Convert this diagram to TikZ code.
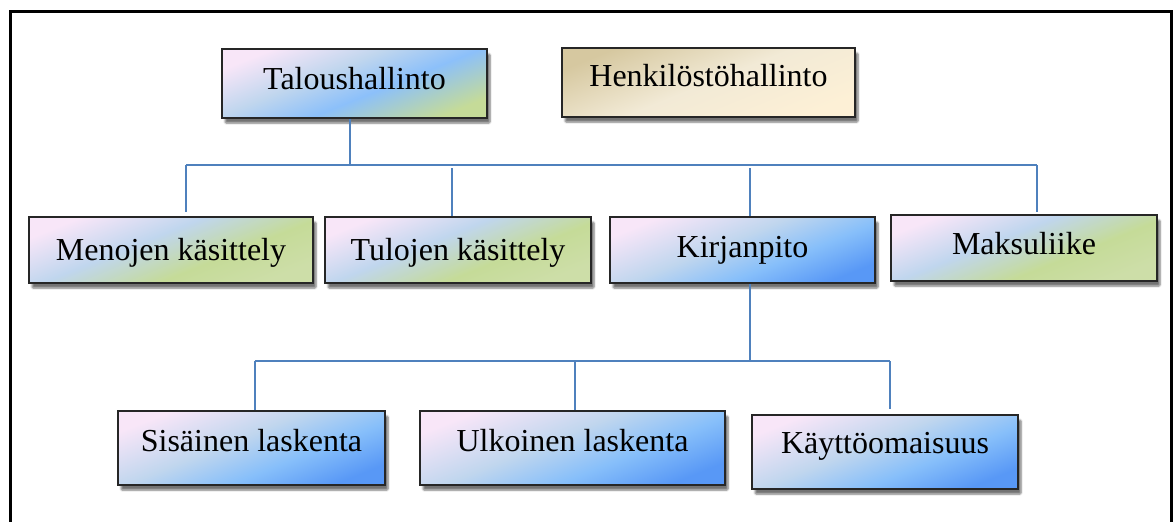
\documentclass[tikz,border=0pt]{standalone}
\usepackage{fontspec}
\setmainfont{Liberation Serif}
\usetikzlibrary{shadows.blur}

% gradient stops
\definecolor{pinkw}{RGB}{248,230,248}
\definecolor{greyblue}{RGB}{192,214,238}
\definecolor{skyblue}{RGB}{135,191,250}
\definecolor{deepblue}{RGB}{88,152,246}
\definecolor{midblue}{RGB}{140,192,250}
\definecolor{leaf}{RGB}{197,219,152}
\definecolor{leafl}{RGB}{205,222,168}
\definecolor{tandark}{RGB}{214,200,160}
\definecolor{tanmid}{RGB}{242,234,214}
\definecolor{tanlight}{RGB}{253,240,214}
\definecolor{linkblue}{RGB}{79,129,189}

\pgfdeclarehorizontalshading{blueshade}{100bp}{%
  color(0bp)=(pinkw); color(25bp)=(pinkw); color(45bp)=(greyblue);
  color(60bp)=(skyblue); color(75bp)=(deepblue); color(100bp)=(deepblue)}
\pgfdeclarehorizontalshading{topshade}{100bp}{%
  color(0bp)=(pinkw); color(25bp)=(pinkw); color(42bp)=(greyblue);
  color(56bp)=(midblue); color(75bp)=(leaf); color(100bp)=(leaf)}
\pgfdeclarehorizontalshading{greenshade}{100bp}{%
  color(0bp)=(pinkw); color(25bp)=(pinkw); color(43bp)=(greyblue);
  color(60bp)=(leaf); color(75bp)=(leafl); color(100bp)=(leafl)}
\pgfdeclarehorizontalshading{tanshade}{100bp}{%
  color(0bp)=(tandark); color(25bp)=(tandark); color(50bp)=(tanmid);
  color(75bp)=(tanlight); color(100bp)=(tanlight)}

\tikzset{
  orgbox/.style={draw=black!85, line width=1.6pt, rectangle, inner sep=0pt,
    shading=#1, shading angle=-68,
    font=\fontsize{32}{38}\selectfont, text depth=0pt,
    blur shadow={shadow xshift=3pt, shadow yshift=-5pt, shadow blur steps=6,
      shadow opacity=55, shadow blur extra rounding=1pt}},
  conn/.style={draw=linkblue, line width=2.8pt},
}

\begin{document}
\begin{tikzpicture}[x=1pt, y=-1pt]
\useasboundingbox (0,0) rectangle (1176,522);

% outer frame (open at the bottom edge of the page)
\draw[line width=3.5pt, black] (10.5,540) -- (10.5,11.5) -- (1171.5,11.5) -- (1171.5,540);

% top level
\node[orgbox=topshade, minimum width=265pt, minimum height=69pt, text height=11pt]
  (tal) at (354.5,83.5) {Taloushallinto};
\node[orgbox=tanshade, minimum width=293pt, minimum height=69pt, text height=8pt]
  (henk) at (708.5,82.5) {Henkilöstöhallinto};

% second level
\node[orgbox=greenshade, minimum width=284pt, minimum height=66pt, text height=20pt]
  (men) at (171,250) {Menojen käsittely};
\node[orgbox=greenshade, minimum width=266pt, minimum height=66pt, text height=20pt]
  (tul) at (458,250) {Tulojen käsittely};
\node[orgbox=blueshade, minimum width=265pt, minimum height=66pt, text height=14pt]
  (kir) at (742.5,250) {Kirjanpito};
\node[orgbox=greenshade, minimum width=266pt, minimum height=66pt, text height=12pt]
  (mak) at (1024,248) {Maksuliike};

% third level
\node[orgbox=blueshade, minimum width=267pt, minimum height=74pt, text height=6pt]
  (sis) at (251.5,448) {Sisäinen laskenta};
\node[orgbox=blueshade, minimum width=305pt, minimum height=74pt, text height=6pt]
  (ulk) at (572.5,448) {Ulkoinen laskenta};
\node[orgbox=blueshade, minimum width=266pt, minimum height=74pt, text height=2pt]
  (kay) at (885,452) {Käyttöomaisuus};

% branch points
\coordinate (t0) at (350,165);
\coordinate (t1) at (186,165);
\coordinate (t2) at (452,168);
\coordinate (t3) at (750,168);
\coordinate (t4) at (1037,165);
\coordinate (k0) at (750,361);
\coordinate (k1) at (255,361);
\coordinate (k2) at (575,361);
\coordinate (k3) at (890,361);

% connectors from Taloushallinto
\draw[conn] (tal.south -| t0) -- (t0);
\draw[conn] (t1) -- (t4);
\draw[conn, shorten >=4pt] (t1) -- (t1 |- men.north);
\draw[conn] (t2) -- (t2 |- tul.north);
\draw[conn] (t3) -- (t3 |- kir.north);
\draw[conn, shorten >=2pt] (t4) -- (t4 |- mak.north);

% connectors from Kirjanpito
\draw[conn] (kir.south -| k0) -- (k0);
\draw[conn] (k1) -- (k3);
\draw[conn] (k1) -- (k1 |- sis.north);
\draw[conn] (k2) -- (k2 |- ulk.north);
\draw[conn, shorten >=5pt] (k3) -- (k3 |- kay.north);
\end{tikzpicture}
\end{document}
